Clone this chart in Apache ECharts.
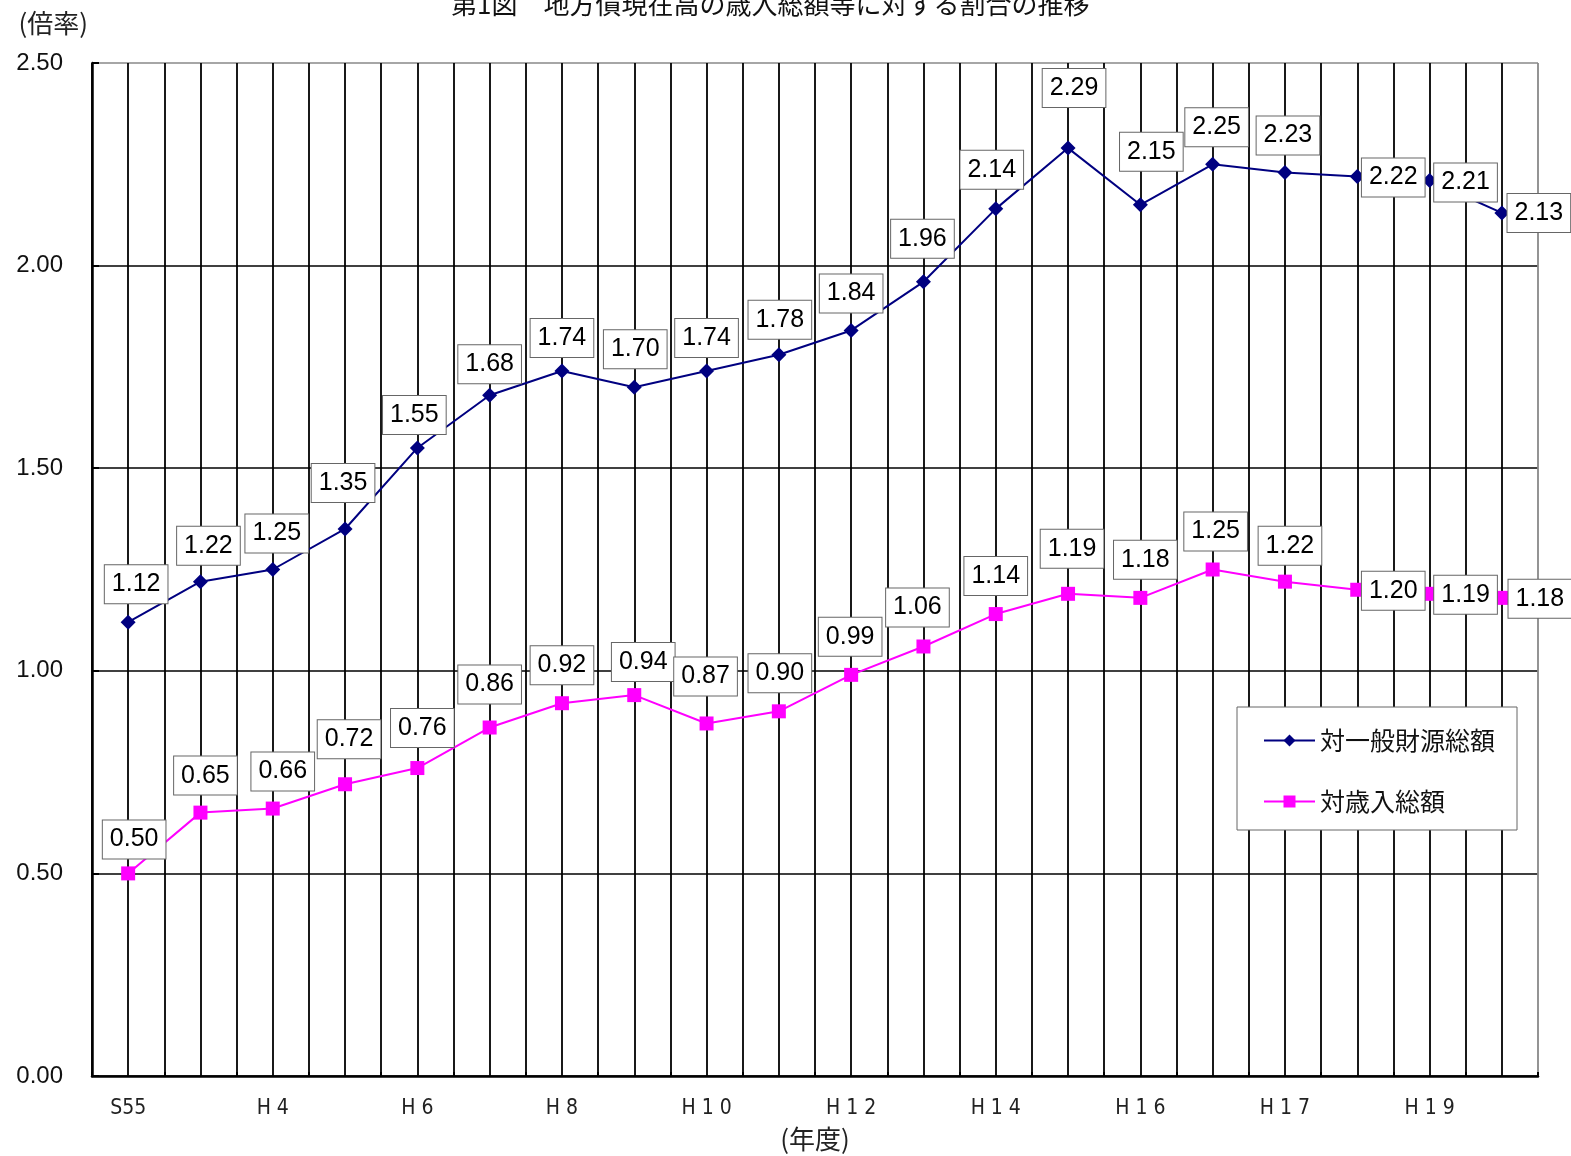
<!DOCTYPE html>
<html>
<head>
<meta charset="utf-8">
<script src="https://cdn.jsdelivr.net/npm/echarts@6/dist/echarts.min.js"></script>
<style>
html,body{margin:0;padding:0;background:#fff;}
#chart{width:1571px;height:1156px;}
</style>
</head>
<body>
<div id="chart"></div>
<script>
// ---- data ----
var categories = ['S55','H2','H4','H5','H6','H7','H8','H9','H10','H11','H12','H13','H14','H15','H16','H16b','H17','H18','H19','H20'];
var tickLabels = ['S55','','H 4','','H 6','','H 8','','H 1 0','','H 1 2','','H 1 4','','H 1 6','','H 1 7','','H 1 9',''];
var seriesGeneralName = '対一般財源総額';
var seriesGeneral = [1.12,1.22,1.25,1.35,1.55,1.68,1.74,1.70,1.74,1.78,1.84,1.96,2.14,2.29,2.15,2.25,2.23,2.22,2.21,2.13];
var seriesRevenueName = '対歳入総額';
var seriesRevenue = [0.50,0.65,0.66,0.72,0.76,0.86,0.92,0.94,0.87,0.90,0.99,1.06,1.14,1.19,1.18,1.25,1.22,1.20,1.19,1.18];
var yTicks = ['0.00','0.50','1.00','1.50','2.00','2.50'];

// ---- label placement (style, separate from data) ----
var offGeneral = [[8,-38],[8,-36],[4,-36],[-2,-46],[-3,-33],[0,-31],[0,-33],[1,-38],[0,-33],[1,-35],[0,-37],[-1,-43],[-4,-39],[6,-60],[11,-53],[4,-37],[3,-37],[36,1],[36,2],[37,0]];
var offRevenue = [[6,-34],[5,-37],[10,-37],[4,-45],[5,-40],[0,-43],[0,-38],[9,-33],[-1,-47],[1,-38],[-1,-38],[-6,-39],[0,-38],[4,-45],[5,-38],[3,-38],[5,-36],[36,1],[36,1],[38,1]];

function build(values, offs){
  return values.map(function(v,i){
    return {value:v, label:{offset:offs[i]}};
  });
}

var labelStyle = {
  show:true,
  position:'inside',
  align:'center',
  verticalAlign:'middle',
  formatter:function(p){return p.value.toFixed(2);},
  fontFamily:'"Liberation Sans", Arial, sans-serif',
  fontSize:25,
  lineHeight:25,
  color:'#000',
  backgroundColor:'#fff',
  borderColor:'#666',
  borderWidth:1,
  padding:[7,7,6,7]
};

var vColors = [];
for (var k=0;k<=40;k++){ vColors.push(k===40 ? '#888' : '#000'); }

var chart = echarts.init(document.getElementById('chart'), null, {renderer:'canvas'});
chart.setOption({
  backgroundColor:'#fff',
  animation:false,
  title:{
    text:'第1図　地方債現在高の歳入総額等に対する割合の推移',
    left:446, top:-14,
    textStyle:{fontFamily:'"Noto Sans CJK JP", sans-serif', fontSize:26, fontWeight:'normal', color:'#111'}
  },
  legend:{
    orient:'vertical',
    left:1237, top:707,
    padding:[21,22,16,26],
    itemGap:36,
    itemWidth:51, itemHeight:15,
    backgroundColor:'#fff',
    borderColor:'#666', borderWidth:1,
    textStyle:{fontFamily:'"Noto Sans CJK JP", sans-serif', fontSize:25, color:'#111', lineHeight:25},
    data:[seriesGeneralName, seriesRevenueName]
  },
  grid:{left:92, right:33, top:63, bottom:80, containLabel:false, outerBoundsMode:'none'},
  xAxis:[{
    type:'category',
    data:categories,
    boundaryGap:true,
    name:'(年度)',
    nameLocation:'middle',
    nameGap:50,
    nameTextStyle:{fontFamily:'"Noto Sans CJK JP", sans-serif', fontSize:26, color:'#222'},
    axisLine:{show:true, lineStyle:{color:'#000', width:2.5}},
    axisTick:{show:true, inside:true, length:4, interval:0, lineStyle:{color:'#000', width:2}},
    axisLabel:{
      interval:0,
      margin:22,
      formatter:function(v,i){return tickLabels[i];},
      fontFamily:'"Liberation Sans Narrow", "DejaVu Sans Condensed", sans-serif',
      fontSize:21, color:'#222'
    },
    splitLine:{show:false}
  },{
    type:'value',
    min:0, max:40, interval:1,
    position:'bottom',
    axisLine:{show:false}, axisTick:{show:false}, axisLabel:{show:false},
    splitLine:{show:true, lineStyle:{color:vColors, width:1.8}}
  }],
  yAxis:{
    type:'value',
    min:0, max:2.5, interval:0.5,
    name:'(倍率)',
    nameLocation:'end',
    nameGap:40,
    nameTextStyle:{fontFamily:'"Noto Sans CJK JP", sans-serif', fontSize:26, color:'#222', align:'right', verticalAlign:'middle', padding:[0,4,0,0]},
    axisLine:{show:true, lineStyle:{color:'#000', width:2.5}},
    axisTick:{show:true, inside:true, length:7, lineStyle:{color:'#000', width:2}},
    axisLabel:{
      margin:29,
      formatter:function(v){return yTicks[Math.round(v/0.5)];},
      fontFamily:'"Liberation Sans", Arial, sans-serif',
      fontSize:24, color:'#111'
    },
    splitLine:{show:true, lineStyle:{color:['#000','#000','#000','#000','#000','#888'], width:1.6}}
  },
  series:[{
    name:seriesGeneralName,
    type:'line',
    xAxisIndex:0,
    data:build(seriesGeneral, offGeneral),
    symbol:'diamond', symbolSize:15,
    itemStyle:{color:'#000080'},
    lineStyle:{color:'#000080', width:2},
    label:labelStyle,
    z:5
  },{
    name:seriesRevenueName,
    type:'line',
    xAxisIndex:0,
    data:build(seriesRevenue, offRevenue),
    symbol:'rect', symbolSize:14,
    itemStyle:{color:'#FF00FF'},
    lineStyle:{color:'#FF00FF', width:2},
    label:labelStyle,
    z:5
  }]
});
</script>
</body>
</html>
